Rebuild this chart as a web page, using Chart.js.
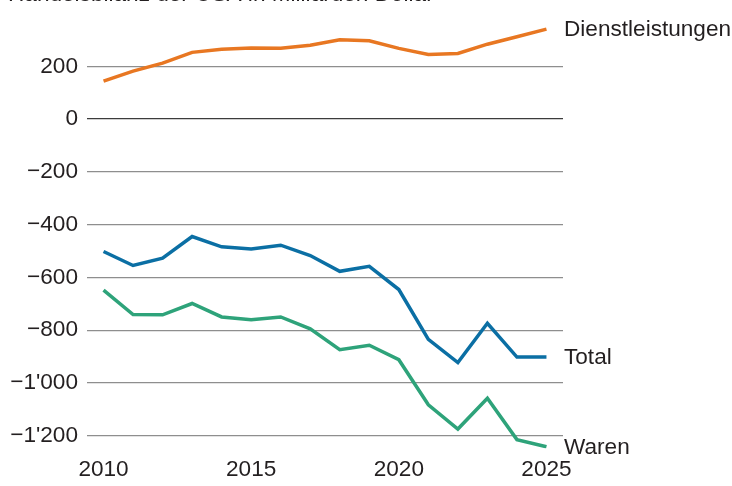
<!DOCTYPE html>
<html>
<head>
<meta charset="utf-8">
<script src="https://cdn.jsdelivr.net/npm/chart.js@4"></script>
<style>
  html, body { margin: 0; padding: 0; background: #fff; }
  #wrap { width: 732px; height: 486px; position: relative; }
</style>
</head>
<body>
<div id="wrap"><canvas id="tradeChart"></canvas></div>
<script>
const years = [2010, 2011, 2012, 2013, 2014, 2015, 2016, 2017, 2018, 2019, 2020, 2021, 2022, 2023, 2024, 2025];
const dienstleistungen = [144, 182, 212, 253, 265, 270, 269, 280, 301, 297, 268, 245, 249, 284, 312, 341];
const total = [-502, -555, -527, -445, -484, -492, -478, -517, -577, -558, -646, -835, -923, -774, -902, -902];
const waren = [-648, -741, -742, -699, -750, -761, -750, -795, -874, -857, -912, -1083, -1175, -1058, -1215, -1242];
const yTicks = [200, 0, -200, -400, -600, -800, -1000, -1200];
const xTicks = [2010, 2015, 2020, 2025];
const seriesNames = ["Dienstleistungen", "Total", "Waren"];
const title = "Handelsbilanz der USA in Milliarden Dollar";

const fontFamily = '"Liberation Sans", Arial, sans-serif';
const textColor = "#231f20";
Chart.defaults.font.family = fontFamily;
Chart.defaults.font.size = 22.6;
Chart.defaults.color = textColor;

function toPoints(values) {
  return values.map((v, i) => ({ x: years[i], y: v }));
}

// 1'200 style with a real minus sign
function fmt(v) {
  const s = Math.abs(v).toString().replace(/\B(?=(\d{3})+(?!\d))/g, "'");
  return v < 0 ? "\u2212" + s : s;
}

// name at the end of each line, plus the cut-off heading at the top
const endLabels = {
  id: "endLabels",
  afterDatasetsDraw(chart) {
    const ctx = chart.ctx;
    ctx.save();
    ctx.font = "22.6px " + fontFamily;
    ctx.fillStyle = textColor;
    ctx.textAlign = "left";
    ctx.textBaseline = "middle";
    chart.data.datasets.forEach((ds, i) => {
      const pts = chart.getDatasetMeta(i).data;
      const last = pts[pts.length - 1];
      ctx.fillText(seriesNames[i], chart.chartArea.right + 1, last.y + 1);
    });
    ctx.textBaseline = "alphabetic";
    ctx.fillText(title, 8, 0.5);
    ctx.restore();
  }
};

new Chart(document.getElementById("tradeChart"), {
  type: "line",
  data: {
    datasets: [
      { label: seriesNames[0], data: toPoints(dienstleistungen), borderColor: "#e87722" },
      { label: seriesNames[1], data: toPoints(total), borderColor: "#0b6fa4" },
      { label: seriesNames[2], data: toPoints(waren), borderColor: "#2ea37a" }
    ]
  },
  options: {
    responsive: true,
    maintainAspectRatio: false,
    animation: false,
    layout: { padding: { left: 0, right: 169, top: 13, bottom: 0 } },
    elements: {
      line: { borderWidth: 3.5, tension: 0, fill: false },
      point: { radius: 0 }
    },
    plugins: {
      legend: { display: false },
      tooltip: { enabled: false }
    },
    scales: {
      x: {
        type: "linear",
        min: 2009.44,
        max: 2025.56,
        afterBuildTicks: s => { s.ticks = xTicks.map(v => ({ value: v })); },
        afterFit: s => { s.height = 37.4; },
        grid: { display: false },
        border: { display: false },
        ticks: { padding: 0, maxRotation: 0, callback: v => String(v) }
      },
      y: {
        min: -1249,
        max: 366,
        afterBuildTicks: s => { s.ticks = yTicks.map(v => ({ value: v })); },
        afterFit: s => { s.width = 87; },
        grid: {
          drawTicks: false,
          color: c => (c.tick && c.tick.value === 0 ? "#3c3c3c" : "#8e8e8e"),
          lineWidth: 1.3
        },
        border: { display: false },
        ticks: { padding: 9, callback: v => fmt(v) }
      }
    }
  },
  plugins: [endLabels]
});
</script>
</body>
</html>
